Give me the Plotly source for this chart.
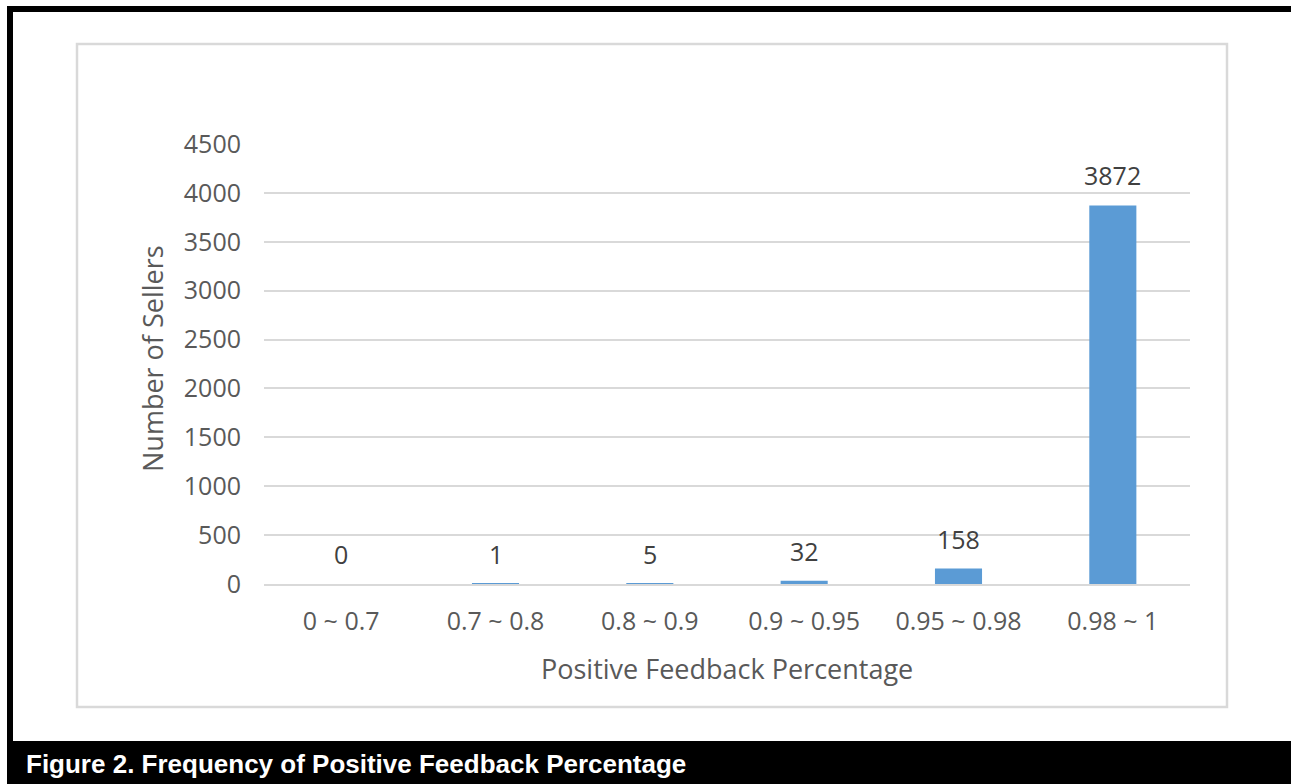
import plotly.graph_objects as go

categories = ["0 ~ 0.7", "0.7 ~ 0.8", "0.8 ~ 0.9", "0.9 ~ 0.95", "0.95 ~ 0.98", "0.98 ~ 1"]
sellers = [0, 1, 5, 32, 158, 3872]
y_ticks = [0, 500, 1000, 1500, 2000, 2500, 3000, 3500, 4000, 4500]

x_title = "Positive Feedback Percentage"
y_title = "Number of Sellers"
caption = "Figure 2. Frequency of Positive Feedback Percentage"

W, H = 1291, 784
L, R, T, B = 264, 101, 144, 200
PW, PH = W - L - R, H - T - B

def px(x):
    return (x - L) / PW

def py(y):
    return (H - B - y) / PH

FONT = "Open Sans"
TICK_COLOR = "#595959"
LABEL_COLOR = "#404040"
GRID = "#d9d9d9"

fig = go.Figure()
fig.add_trace(go.Bar(
    x=categories, y=sellers,
    marker=dict(color="#5b9bd5", line=dict(width=0)),
    hoverinfo="x+y",
))

annotations = []
for c, v in zip(categories, sellers):
    annotations.append(dict(
        x=c, y=v, xref="x", yref="y", text=str(v), showarrow=False,
        yanchor="middle", yshift=30,
        font=dict(family=FONT, size=25, color=LABEL_COLOR),
    ))

annotations.append(dict(
    x=px(727), y=py(668), xref="paper", yref="paper", text=x_title,
    showarrow=False, xanchor="center", yanchor="middle",
    font=dict(family=FONT, size=27, color=TICK_COLOR),
))
annotations.append(dict(
    x=px(152), y=py(359), xref="paper", yref="paper", text=y_title,
    showarrow=False, xanchor="center", yanchor="middle", textangle=-90,
    font=dict(family=FONT, size=27, color=TICK_COLOR),
))
annotations.append(dict(
    x=px(24), y=py(764), xref="paper", yref="paper", text="<b>" + caption + "</b>",
    showarrow=False, xanchor="left", yanchor="middle",
    font=dict(family="Liberation Sans, Arial", size=26, color="#ffffff"),
))

shapes = [
    # chart area border
    dict(type="rect", xref="paper", yref="paper",
         x0=px(77), x1=px(1227), y0=py(707), y1=py(44),
         line=dict(color=GRID, width=2.5), fillcolor="rgba(0,0,0,0)", layer="below"),
    # black frame: top, left, bottom
    dict(type="rect", xref="paper", yref="paper",
         x0=px(7), x1=px(W + 5), y0=py(12), y1=py(6),
         line=dict(width=0), fillcolor="#000000"),
    dict(type="rect", xref="paper", yref="paper",
         x0=px(7), x1=px(13), y0=py(H + 5), y1=py(6),
         line=dict(width=0), fillcolor="#000000"),
    dict(type="rect", xref="paper", yref="paper",
         x0=px(7), x1=px(W + 5), y0=py(H + 5), y1=py(741),
         line=dict(width=0), fillcolor="#000000"),
]

fig.update_layout(
    width=W, height=H,
    margin=dict(l=L, r=R, t=T, b=B, autoexpand=False),
    paper_bgcolor="#ffffff", plot_bgcolor="#ffffff",
    showlegend=False,
    bargap=0.695,
    annotations=annotations,
    shapes=shapes,
    font=dict(family=FONT, color=TICK_COLOR),
    xaxis=dict(
        type="category", categoryorder="array", categoryarray=categories,
        showgrid=False, showline=True, linecolor=GRID, linewidth=2,
        ticks="", ticklabelstandoff=14,
        tickfont=dict(family=FONT, size=25, color=TICK_COLOR),
        fixedrange=True,
    ),
    yaxis=dict(
        range=[0, 4500], tickmode="array", tickvals=y_ticks,
        ticktext=[str(t) for t in y_ticks],
        showgrid=True, gridcolor=GRID, gridwidth=2,
        zeroline=False, showline=False, ticks="", ticklabelstandoff=22,
        tickfont=dict(family=FONT, size=25, color=TICK_COLOR),
        fixedrange=True,
    ),
)

fig.write_html(
    "out.html",
    config={"displayModeBar": False},
    post_script="document.body.style.margin='0';document.body.style.overflow='hidden';",
)
